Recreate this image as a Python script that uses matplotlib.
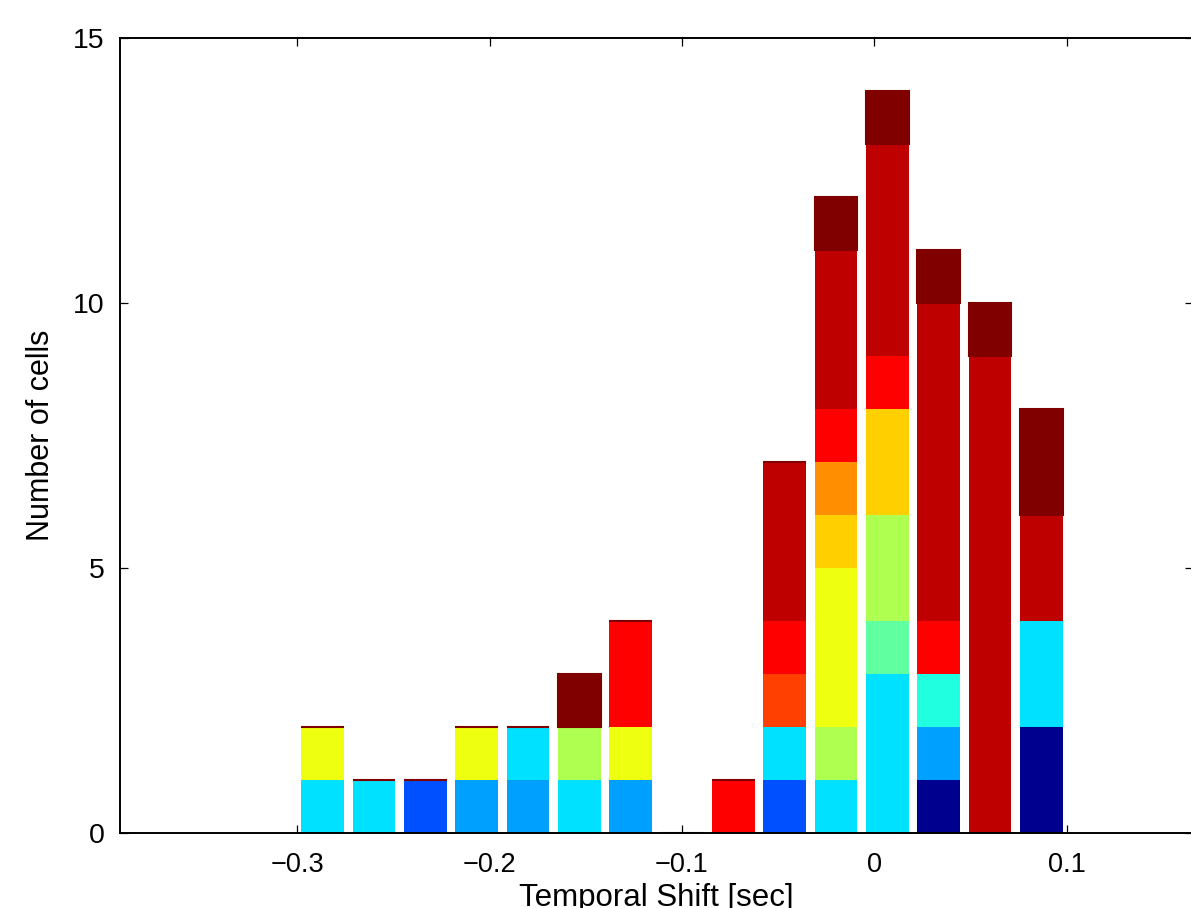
import matplotlib
matplotlib.use("Agg")
import matplotlib.pyplot as plt
import numpy as np

plt.rcParams['font.family'] = ['Liberation Sans', 'DejaVu Sans']

# bin centres of the histogram (sec)
bin_centers = [-0.2867, -0.26, -0.2333, -0.2067, -0.18, -0.1533, -0.1267, -0.1,
               -0.0733, -0.0467, -0.02, 0.0067, 0.0333, 0.06, 0.0867]

# stacked counts per colour group, bottom to top
dark_blue   = [0, 0, 0, 0, 0, 0, 0, 0, 0, 0, 0, 0, 1, 0, 2]
blue        = [0, 0, 1, 0, 0, 0, 0, 0, 0, 1, 0, 0, 0, 0, 0]
mid_blue    = [0, 0, 0, 1, 1, 0, 1, 0, 0, 0, 0, 0, 1, 0, 0]
cyan        = [1, 1, 0, 0, 1, 1, 0, 0, 0, 1, 1, 3, 0, 0, 2]
aqua        = [0, 0, 0, 0, 0, 0, 0, 0, 0, 0, 0, 0, 1, 0, 0]
mint        = [0, 0, 0, 0, 0, 0, 0, 0, 0, 0, 0, 1, 0, 0, 0]
lime        = [0, 0, 0, 0, 0, 1, 0, 0, 0, 0, 1, 2, 0, 0, 0]
yellow      = [1, 0, 0, 1, 0, 0, 1, 0, 0, 0, 3, 0, 0, 0, 0]
gold        = [0, 0, 0, 0, 0, 0, 0, 0, 0, 0, 1, 2, 0, 0, 0]
orange      = [0, 0, 0, 0, 0, 0, 0, 0, 0, 0, 1, 0, 0, 0, 0]
red_orange  = [0, 0, 0, 0, 0, 0, 0, 0, 0, 1, 0, 0, 0, 0, 0]
red         = [0, 0, 0, 0, 0, 0, 2, 0, 1, 1, 1, 1, 1, 0, 0]
dark_red    = [0, 0, 0, 0, 0, 0, 0, 0, 0, 3, 3, 4, 6, 9, 2]
darkest_red = [0, 0, 0, 0, 0, 1, 0, 0, 0, 0, 1, 1, 1, 1, 2]

groups = [dark_blue, blue, mid_blue, cyan, aqua, mint, lime, yellow,
          gold, orange, red_orange, red, dark_red, darkest_red]
colors = ['#00008F', '#0050FF', '#00A0FF', '#00E0FF', '#20FFDF', '#60FF9F',
          '#AFFF50', '#EFFF10', '#FFCF00', '#FF8F00', '#FF4000', '#FF0000',
          '#BF0000', '#800000']

xticks = [-0.3, -0.2, -0.1, 0, 0.1]
xticklabels = ['\u22120.3', '\u22120.2', '\u22120.1', '0', '0.1']
yticks = [0, 5, 10, 15]

W, H = 1191, 908
fig = plt.figure(figsize=(W / 100, H / 100), dpi=100)
ax = fig.add_axes([120 / W, 1 - 833 / H, (1193 - 120) / W, (833 - 38) / H])

bottom = np.zeros(len(bin_centers))
for i, (vals, c) in enumerate(zip(groups, colors)):
    vals = np.array(vals, dtype=float)
    last = i == len(groups) - 1
    ax.bar(bin_centers, vals, width=0.0222, bottom=bottom, color=c,
           edgecolor=c, linewidth=1.5 if last else 0.0, zorder=2)
    bottom += vals

ax.set_xlim(-0.392, 0.1655)
ax.set_ylim(0, 15)
ax.set_xticks(xticks)
ax.set_xticklabels(xticklabels)
ax.set_yticks(yticks)

ax.tick_params(direction='in', top=True, right=True, length=6, width=0.9)
ax.tick_params(axis='x', labelsize=19.5, pad=14)
ax.tick_params(axis='y', labelsize=20.5, pad=11)
for s in ax.spines.values():
    s.set_linewidth(1.4)
    s.set_zorder(3)

ax.set_xlabel('Temporal Shift [sec]', fontsize=22.5, labelpad=3)
ax.set_ylabel('Number of cells', fontsize=22, labelpad=12)

fig.savefig('out.png', dpi=100)
